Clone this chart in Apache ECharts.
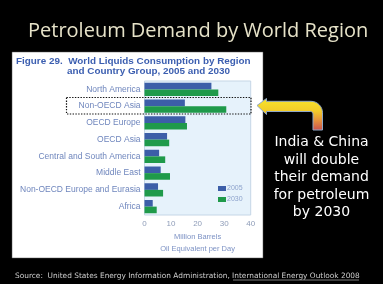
<!DOCTYPE html>
<html>
<head>
<meta charset="utf-8">
<script src="https://cdn.jsdelivr.net/npm/echarts@6/dist/echarts.min.js"></script>
<style>
  html, body { margin: 0; padding: 0; background: #000; }
  #main { width: 383px; height: 284px; }
</style>
</head>
<body>
<div id="main"></div>
<script>
// 数据
var regions = ["North America", "Non-OECD Asia", "OECD Europe", "OECD Asia",
    "Central and South America", "Middle East", "Non-OECD Europe and Eurasia", "Africa"];
var demand2005 = [25.2, 15.2, 15.4, 8.5, 5.5, 6.1, 5.1, 3.1];
var demand2030 = [27.8, 30.8, 16.0, 9.3, 7.8, 9.6, 7.0, 4.6];
var seriesNames = ["2005", "2030"];
var xTicks = [0, 40, 10];

var chart = echarts.init(document.getElementById("main"));

var labelBlue = "#6f86bd";

// 弯箭头的轮廓点（圆角用折线近似）
function 箭头点() {
    var pts = [[257, 105.5], [266.5, 98.5], [266.5, 101.3], [311, 101.3]];
    // 外圆角
    for (var i = 1; i <= 8; i++) {
        var a = -Math.PI / 2 + (Math.PI / 2) * i / 8;
        pts.push([311 + 11.5 * Math.cos(a), 112.8 + 11.5 * Math.sin(a)]);
    }
    pts.push([322.5, 130], [313, 130], [313, 114]);
    // 内圆角
    for (var j = 1; j <= 4; j++) {
        var b = (Math.PI / 2) * j / 4;
        pts.push([310.5 + 2.5 * Math.cos(b), 114 - 2.5 * Math.sin(b)]);
    }
    pts.push([266.5, 111.5], [266.5, 114.5]);
    return pts;
}

// 箭头渐变
var arrowFill = new echarts.graphic.LinearGradient(0, 0, 0, 1, [
    { offset: 0, color: "#f7e52b" },
    { offset: 0.4, color: "#f2cc2a" },
    { offset: 0.65, color: "#e89a3a" },
    { offset: 1, color: "#c9504f" }
]);

var option = {
    backgroundColor: "#000",
    animation: false,
    title: {
        text: "Petroleum Demand by World Region",
        left: 23,
        top: 16,
        textStyle: {
            color: "#e6e2c8",
            fontFamily: "Open Sans",
            fontWeight: "normal",
            fontSize: 20
        }
    },
    grid: {
        left: 144.5,
        right: 132.3,
        top: 81,
        bottom: 69,
        show: true,
        backgroundColor: "#e6f2fb",
        borderColor: "#c5d6e6",
        borderWidth: 1
    },
    legend: {
        orient: "vertical",
        left: 218,
        top: 185,
        padding: 0,
        itemWidth: 8,
        itemHeight: 5,
        itemGap: 4,
        icon: "rect",
        textStyle: { color: "#8ea3cc", fontSize: 7, fontFamily: "Liberation Sans", padding: [0, 0, 0, -4] },
        data: seriesNames
    },
    xAxis: {
        type: "value",
        min: xTicks[0],
        max: xTicks[1],
        interval: xTicks[2],
        axisLine: { show: false },
        axisTick: { show: false },
        splitLine: { show: false },
        axisLabel: { color: "#8e9cb8", fontSize: 8, fontFamily: "Liberation Sans", margin: 5 },
        name: "Million Barrels\nOil Equivalent per Day",
        nameLocation: "middle",
        nameGap: 16,
        nameTextStyle: { color: "#7d92c4", fontSize: 7.5, fontFamily: "Liberation Sans", lineHeight: 12 }
    },
    yAxis: {
        type: "category",
        inverse: true,
        data: regions,
        axisLine: { show: false },
        axisTick: { show: false },
        axisLabel: { color: labelBlue, fontSize: 8.5, fontFamily: "Liberation Sans", margin: 4 }
    },
    series: [
        {
            name: seriesNames[0],
            type: "bar",
            data: demand2005,
            barGap: "0%",
            barCategoryGap: "21%",
            itemStyle: { color: "#3c5ea8" }
        },
        {
            name: seriesNames[1],
            type: "bar",
            data: demand2030,
            itemStyle: { color: "#1f9a4a" }
        }
    ],
    graphic: [
        // 白色底板
        {
            type: "rect",
            z: -10,
            shape: { x: 12, y: 52, width: 251, height: 206 },
            style: { fill: "#fff", stroke: "#555", lineWidth: 0.5 }
        },
        // 图表标题
        {
            type: "text",
            x: 16, y: 61,
            style: {
                text: "Figure 29.  World Liquids Consumption by Region",
                fill: "#3b5eb0", font: "bold 9.9px 'Liberation Sans'", verticalAlign: "middle"
            }
        },
        {
            type: "text",
            x: 67, y: 71,
            style: {
                text: "and Country Group, 2005 and 2030",
                fill: "#3b5eb0", font: "bold 9.9px 'Liberation Sans'", verticalAlign: "middle"
            }
        },
        // 虚线框
        {
            type: "rect",
            z: 10,
            shape: { x: 66.5, y: 97.5, width: 184.5, height: 16.5 },
            style: { fill: "none", stroke: "#111", lineWidth: 1.2, lineDash: [1.4, 1.4] }
        },
        // 箭头
        {
            type: "polygon",
            z: 10,
            shape: { points: 箭头点() },
            style: { fill: arrowFill, stroke: "#8fa8c8", lineWidth: 1 }
        },
        // 说明文字
        {
            type: "text",
            x: 321.5, y: 134,
            style: {
                text: "India & China\nwill double\ntheir demand\nfor petroleum\nby 2030",
                fill: "#fff", font: "14px 'DejaVu Sans'", align: "center", lineHeight: 17.5
            }
        },
        // 来源
        {
            type: "text",
            x: 15, y: 276,
            style: {
                text: "Source:  United States Energy Information Administration, International Energy Outlook 2008",
                fill: "#cfcfcf", font: "7.4px 'DejaVu Sans'", verticalAlign: "middle"
            }
        },
        {
            type: "line",
            shape: { x1: 233, y1: 280, x2: 359, y2: 280 },
            style: { stroke: "#cfcfcf", lineWidth: 0.6 }
        }
    ]
};

chart.setOption(option);
</script>
</body>
</html>
